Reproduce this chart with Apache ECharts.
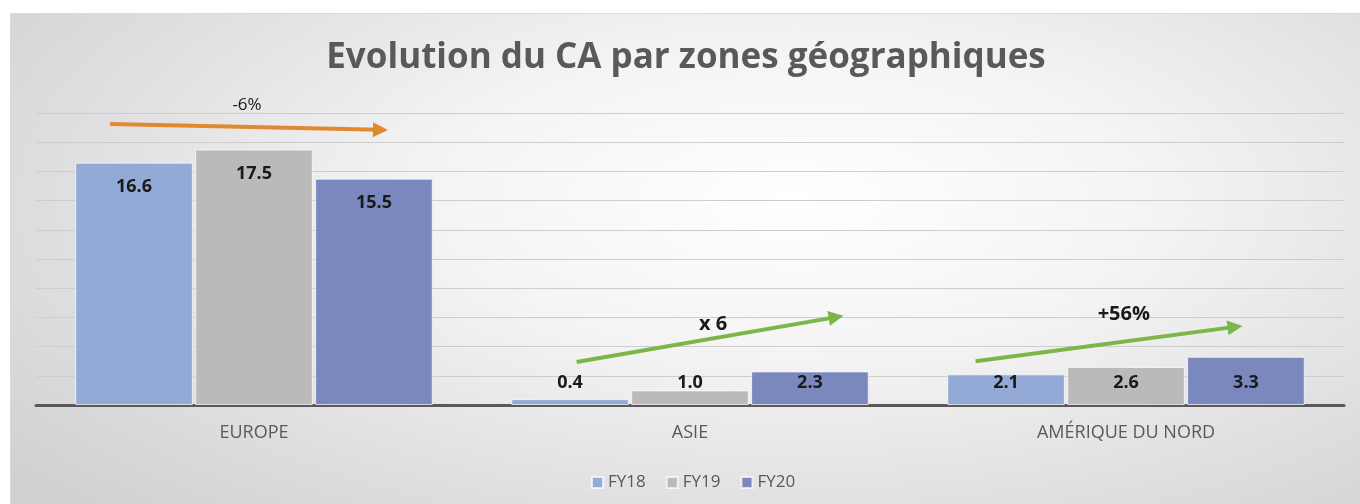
<!DOCTYPE html>
<html>
<head>
<meta charset="utf-8">
<script src="https://cdn.jsdelivr.net/npm/echarts@6/dist/echarts.min.js"></script>
<style>
  html, body { margin: 0; padding: 0; background: #fff; width: 1360px; height: 504px; overflow: hidden; }
  #chart {
    position: absolute; left: 10px; top: 13px;
    width: 1352px; height: 493px; box-sizing: border-box;
    border: 1px solid #dadada;
    background: radial-gradient(ellipse 75% 90% at 58% 38%, #ffffff 0%, #f4f4f5 35%, #e0e0e2 70%, #d0d0d3 100%);
  }
</style>
</head>
<body>
<div id="chart"></div>
<script>
// data
const zones = ['EUROPE', 'ASIE', 'AMÉRIQUE DU NORD']
const fy18 = [16.6, 0.4, 2.1]
const fy19 = [17.5, 1.0, 2.6]
const fy20 = [15.5, 2.3, 3.3]
const seriesNames = ['FY18', 'FY19', 'FY20']

// annotation arrows, on a hidden 0..3 value axis (one unit per zone)
const arrows = [
  { from: [0.17, 19.25], to: [0.79, 18.85], color: '#e08a2e' },
  { from: [1.24, 2.95], to: [1.835, 6.02], color: '#7ab648' },
  { from: [2.155, 3.0], to: [2.75, 5.35], color: '#7ab648' }
]
const notes = [
  { pos: [0.484, 20.55], text: '-6%', bold: false },
  { pos: [1.553, 5.55], text: 'x 6', bold: true },
  { pos: [2.495, 6.23], text: '+56%', bold: true }
]

const colors = ['#94aad6', '#bcbab9', '#7b88be']

const chart = echarts.init(document.getElementById('chart'))

const barSeries = [fy18, fy19, fy20].map((vals, i) => ({
  name: seriesNames[i],
  type: 'bar',
  xAxisIndex: 0,
  yAxisIndex: 0,
  barGap: '2%',
  barCategoryGap: '18%',
  itemStyle: { color: colors[i], borderColor: 'rgba(255,255,255,0.7)', borderWidth: 1 },
  // big bars get their label inside the top, small ones sit at the base
  data: vals.map(v => ({
    value: v,
    label: v > 10
      ? { position: 'insideTop', distance: 15 }
      : { position: 'insideBottom', distance: 13 }
  })),
  label: {
    show: true,
    formatter: p => p.value.toFixed(1),
    fontFamily: 'Open Sans',
    fontWeight: 'bold',
    fontSize: 18,
    color: '#1a1a1a'
  }
}))

const arrowSeries = {
  type: 'lines',
  coordinateSystem: 'cartesian2d',
  xAxisIndex: 1,
  yAxisIndex: 0,
  silent: true,
  symbol: ['none', 'triangle'],
  symbolSize: 15,
  data: arrows.map(a => ({
    coords: [a.from, a.to],
    lineStyle: { color: a.color, width: 4, opacity: 1 }
  })),
  z: 5
}

const noteSeries = {
  type: 'scatter',
  xAxisIndex: 1,
  yAxisIndex: 0,
  silent: true,
  clip: false,
  symbolSize: 0,
  itemStyle: { opacity: 1 },
  data: notes.map(n => ({
    value: n.pos,
    label: { fontWeight: n.bold ? 'bold' : 'normal', fontSize: n.bold ? 20 : 17 }
  })),
  label: {
    show: true,
    position: 'inside',
    formatter: p => notes[p.dataIndex].text,
    fontFamily: 'Open Sans',
    color: '#1a1a1a'
  },
  z: 6
}

chart.setOption({
  backgroundColor: 'transparent',
  animation: false,
  title: {
    text: 'Evolution du CA par zones géographiques',
    left: 'center',
    top: 22,
    textStyle: { fontFamily: 'Open Sans', fontWeight: 'bold', fontSize: 35, color: '#595959' }
  },
  legend: {
    data: seriesNames,
    left: 575,
    top: 455,
    icon: 'rect',
    itemWidth: 11,
    itemHeight: 11,
    itemGap: 20,
    textStyle: { fontFamily: 'Open Sans', fontSize: 17, color: '#595959' }
  },
  grid: { left: 25, right: 17, top: 99, bottom: 100 },
  xAxis: [
    {
      type: 'category',
      data: zones,
      axisTick: { show: false },
      axisLine: { lineStyle: { color: '#595959', width: 3 } },
      axisLabel: { fontFamily: 'Open Sans', fontSize: 18, color: '#595959', margin: 19 }
    },
    { type: 'value', min: 0, max: 3, show: false }
  ],
  yAxis: {
    type: 'value',
    min: 0,
    max: 20,
    interval: 2,
    axisLabel: { show: false },
    axisLine: { show: false },
    axisTick: { show: false },
    splitLine: { lineStyle: { color: '#cdcdcd', width: 1 } }
  },
  series: [...barSeries, arrowSeries, noteSeries]
})
</script>
</body>
</html>
